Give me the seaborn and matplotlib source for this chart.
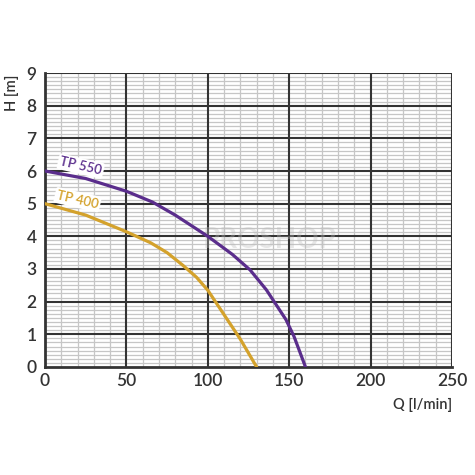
import numpy as np
import pandas as pd
import matplotlib
matplotlib.use("Agg")
import matplotlib.pyplot as plt
import seaborn as sns
from matplotlib.ticker import MultipleLocator

# pump curves
tp550_q = [0, 25, 50, 66, 80, 100, 115, 126, 136, 148, 153, 160]
tp550_h = [6.0, 5.77, 5.38, 5.05, 4.65, 4.0, 3.45, 2.97, 2.36, 1.45, 0.93, 0.0]
tp400_q = [0, 25, 50, 65, 75, 85, 93, 100, 110, 120, 130]
tp400_h = [5.0, 4.65, 4.14, 3.8, 3.5, 3.1, 2.75, 2.35, 1.6, 0.85, 0.0]

x_ticks = [0, 50, 100, 150, 200, 250]
y_ticks = list(range(10))

PURPLE = "#5a2d8c"
GOLD = "#d4a22c"
DARK = "#333333"

df = pd.concat([
    pd.DataFrame({"Q": tp550_q, "H": tp550_h, "model": "TP 550"}),
    pd.DataFrame({"Q": tp400_q, "H": tp400_h, "model": "TP 400"}),
])

sns.set_theme(style="white")
plt.rcParams["font.family"] = ["Lato", "DejaVu Sans"]

fig = plt.figure(figsize=(4.75, 4.75), dpi=100)
ax = fig.add_axes([0.0947, 0.2274, 0.8569, 0.6189])

ax.xaxis.set_minor_locator(MultipleLocator(10))
ax.yaxis.set_minor_locator(MultipleLocator(0.125))
ax.grid(which="minor", color="#c6c6c6", linewidth=0.9)
ax.set_axisbelow(True)
# major grid drawn on top of the minor one
for xv in x_ticks[1:]:
    ax.axvline(xv, color=DARK, linewidth=1.5, zorder=1)
for yv in y_ticks[1:]:
    ax.axhline(yv, color=DARK, linewidth=1.5, zorder=1)

ax.text(138, 3.9, "PROSHOP", color="#bbbbbb", alpha=0.35, fontsize=20, fontweight="bold",
        ha="center", va="center", zorder=2)

sns.lineplot(data=df, x="Q", y="H", hue="model", palette={"TP 550": PURPLE, "TP 400": GOLD},
             linewidth=2.3, legend=False, ax=ax, zorder=3, sort=False)

ax.set_xlim(0, 250)
ax.set_ylim(0, 9)
ax.set_xticks(x_ticks)
ax.set_yticks(y_ticks)
ax.tick_params(which="major", length=4, width=1.2, color=DARK, labelsize=12.5, labelcolor=DARK, pad=2)
ax.tick_params(which="minor", length=0)
ax.tick_params(axis="x", direction="inout")
ax.tick_params(axis="y", direction="out")
for lab in ax.get_xticklabels() + ax.get_yticklabels():
    lab.set_fontweight("semibold")
for side in ["left", "bottom"]:
    ax.spines[side].set_color(DARK)
    ax.spines[side].set_linewidth(2)
    ax.spines[side].set_zorder(2.5)
for side in ["top", "right"]:
    ax.spines[side].set_visible(False)
ax.set_xlabel("")
ax.set_ylabel("")

bbox = {"boxstyle": "round,pad=0.15", "facecolor": "white", "edgecolor": "none"}
ax.text(22, 6.15, "TP 550", color=PURPLE, fontsize=9.5, fontweight="semibold", rotation=-13,
        ha="center", va="center", bbox=bbox, zorder=4)
ax.text(20, 5.12, "TP 400", color=GOLD, fontsize=9.5, fontweight="semibold", rotation=-13,
        ha="center", va="center", bbox=bbox, zorder=4)

fig.text(0.951, 0.148, "Q [l/min]", ha="right", va="center", fontsize=10.5,
         fontweight="semibold", color=DARK)
fig.text(0.025, 0.805, "H [m]", ha="center", va="center", fontsize=10.5,
         fontweight="semibold", color=DARK, rotation=90)

fig.savefig("out.png", dpi=100)
